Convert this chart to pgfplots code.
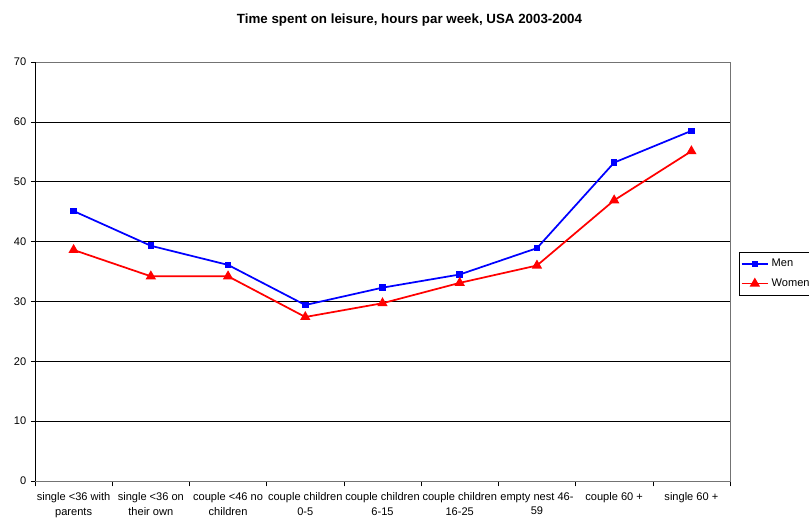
\documentclass[border=0pt]{standalone}
\usepackage{pgfplots}
\pgfplotsset{compat=1.18}
\usepackage{fontspec}
\setmainfont{Liberation Sans}

\pgfplotstableread{
x men women
0 45.1 38.6
1 39.3 34.2
2 36.1 34.2
3 29.4 27.4
4 32.3 29.7
5 34.5 33.1
6 38.9 36.0
7 53.2 46.9
8 58.5 55.1
}\leisure

\begin{document}
\begin{tikzpicture}
\begin{axis}[
  at={(0,0)}, anchor=south west,
  scale only axis, width=521.25pt, height=314.25pt,
  xmin=-0.5, xmax=8.5, ymin=0, ymax=70,
  ytick={0,10,...,70},
  xtick={0,...,8},
  xticklabels={single <36 with\\parents, single <36 on\\their own, couple <46 no\\children, couple children\\0-5, couple children\\6-15, couple children\\16-25, empty nest 46-\\59, couple 60 +, single 60 +},
  minor xtick={-0.5,0.5,...,8.5},
  x tick label style={align=center, anchor=north, yshift=-2pt},
  major x tick style={draw=none},
  minor x tick style={black, thin},
  y tick style={black, thin},
  tick align=outside, tick pos=left,
  major tick length=3pt, minor tick length=4pt,
  ymajorgrids, grid style={black, thin},
  axis line style={gray!90!black, thin},
  every tick label/.append style={font=\fontsize{8.3}{11}\selectfont},
  /pgf/number format/assume math mode=true,
  legend style={at={(rel axis cs:1.0130,0.546)}, anchor=north west,
    draw=black, thin, font=\fontsize{8.3}{9}\selectfont,
    inner xsep=1pt, inner ysep=3pt, row sep=3.5pt, cells={anchor=west}},
  legend image code/.code={
    \draw[mark repeat=2, mark phase=2, #1] plot coordinates {(0pt,0pt) (10pt,0pt) (20pt,0pt)};},
  clip=false,
]
\draw[black, thin] (rel axis cs:0,0) -- (rel axis cs:0,1);
\addplot[blue, line width=1.3pt, mark=square*, mark size=1.8pt] table[x=x, y=men] {\leisure};
\addplot[red, line width=1.3pt, mark=triangle*, mark size=3.2pt] table[x=x, y=women] {\leisure};
\legend{Men, Women}
\end{axis}
\node[font=\bfseries\fontsize{10}{12}\selectfont] at (280.9pt,345.75pt) {Time spent on leisure, hours par week, USA 2003-2004};
\pgfresetboundingbox
\path[use as bounding box] (-26.25pt,-29.25pt) rectangle (580.5pt,360.75pt);
\end{tikzpicture}
\end{document}
